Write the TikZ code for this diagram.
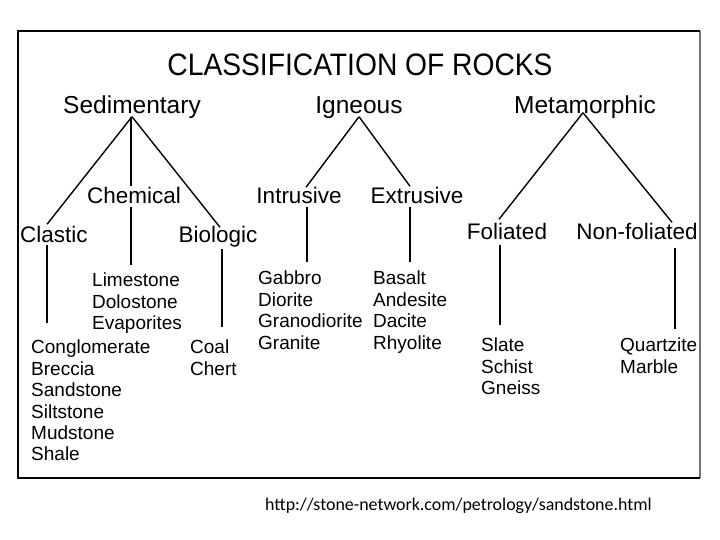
\documentclass[tikz,border=0pt]{standalone}
\usepackage{fontspec}
\setmainfont{Liberation Sans}
\newfontfamily\urlfont{Carlito}
\begin{document}
\begin{tikzpicture}[x=1pt,y=-1pt,
  titletext/.style={font=\fontsize{31}{34}\selectfont, inner sep=0pt, anchor=base, xscale=0.91},
  rockclass/.style={font=\fontsize{24.5}{28}\selectfont, inner sep=0pt, anchor=base, text height=0.75em, text depth=0.25em},
  rocksub/.style={font=\fontsize{22.5}{26}\selectfont, inner sep=0pt, anchor=base, text height=0.75em, text depth=0.25em},
  rocklist/.style={font=\fontsize{19}{21.4}\selectfont, inner sep=0pt, anchor=north west, align=left},
  branch/.style={line width=1.4pt}]
\useasboundingbox (0,0) rectangle (720,540);
\draw[line width=2pt, black!55] (700,31) -- (700,478);
\draw[line width=2pt] (700,31) -- (18,31) -- (18,478) -- (700,478);

\node[titletext] (title) at (360,76) {CLASSIFICATION OF ROCKS};

\node[rockclass] (sed) at (132,114) {Sedimentary};
\node[rockclass] (ign) at (359,114) {Igneous};
\node[rockclass] (met) at (585,114) {Metamorphic};

\node[rocksub] (clastic) at (54,242) {Clastic};
\node[rocksub] (chem) at (134,204) {Chemical};
\node[rocksub] (bio) at (218,242) {Biologic};
\node[rocksub] (intr) at (299,204) {Intrusive};
\node[rocksub] (extr) at (417,204) {Extrusive};
\node[rocksub] (fol) at (507,240) {Foliated};
\node[rocksub] (nonfol) at (637,240) {Non-foliated};

\node[rocklist] (clasticlist) at (31,340) {Conglomerate\\Breccia\\Sandstone\\Siltstone\\Mudstone\\Shale};
\node[rocklist] (chemlist) at (92,273) {Limestone\\Dolostone\\Evaporites};
\node[rocklist] (biolist) at (190,340) {Coal\\Chert};
\node[rocklist] (intrlist) at (258,271) {Gabbro\\Diorite\\Granodiorite\\Granite};
\node[rocklist] (extrlist) at (373,271) {Basalt\\Andesite\\Dacite\\Rhyolite};
\node[rocklist] (follist) at (481,338) {Slate\\Schist\\Gneiss};
\node[rocklist] (nonfollist) at (620,338) {Quartzite\\Marble};

\node[font=\urlfont\fontsize{17.9}{20}\selectfont, inner sep=0pt, anchor=base west] (source) at (265,510) {http://stone-network.com/petrology/sandstone.html};

\draw[branch] (sed.south) -- ([xshift=-7pt,yshift=10pt]clastic.north);
\draw[branch] ([xshift=-1pt]sed.south) -- ([xshift=-3pt,yshift=10pt]chem.north);
\draw[branch] (sed.south) -- ([xshift=2pt,yshift=7pt]bio.north);
\draw[branch] (ign.south) -- ([xshift=7pt,yshift=9pt]intr.north);
\draw[branch] (ign.south) -- ([xshift=-7pt,yshift=10pt]extr.north);
\draw[branch] ([xshift=-2pt,yshift=4pt]met.south) -- ([xshift=-8pt,yshift=13pt]fol.north);
\draw[branch] ([xshift=-2pt,yshift=4pt]met.south) -- ([xshift=35pt,yshift=10pt]nonfol.north);

\draw[branch, shorten >=17pt] ([xshift=-7pt]clastic.south) -- ([xshift=-7pt]clastic.south |- clasticlist.north);
\draw[branch, shorten >=8pt] ([xshift=-3pt]chem.south) -- ([xshift=-3pt]chem.south |- chemlist.north);
\draw[branch, shorten <=4pt, shorten >=13pt] ([xshift=4pt]bio.south) -- ([xshift=4pt]bio.south |- biolist.north);
\draw[branch, shorten >=9pt] ([xshift=8pt]intr.south) -- ([xshift=8pt]intr.south |- intrlist.north);
\draw[branch, shorten >=9pt] ([xshift=-7pt]extr.south) -- ([xshift=-7pt]extr.south |- extrlist.north);
\draw[branch, shorten <=2pt, shorten >=13pt] ([xshift=-7pt]fol.south) -- ([xshift=-7pt]fol.south |- follist.north);
\draw[branch, shorten <=5pt, shorten >=9pt] ([xshift=38pt]nonfol.south) -- ([xshift=38pt]nonfol.south |- nonfollist.north);
\end{tikzpicture}
\end{document}
